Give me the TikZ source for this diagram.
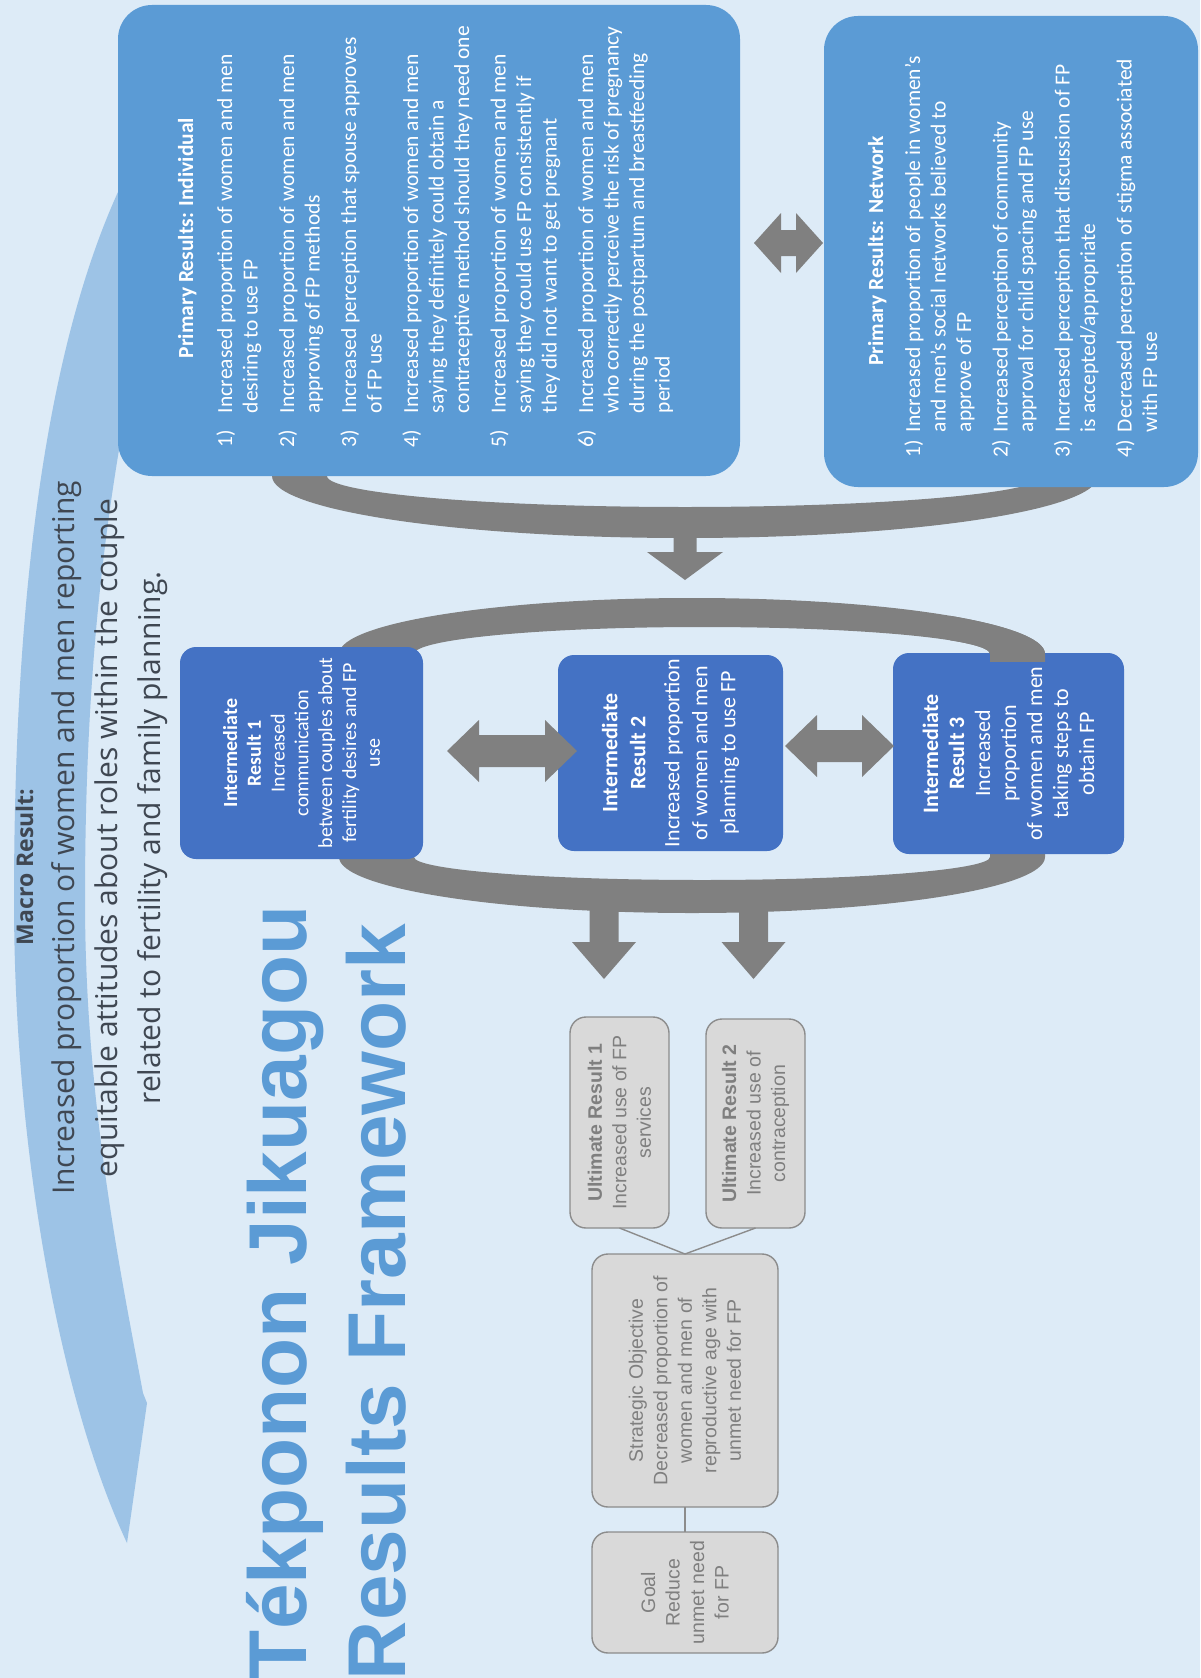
\documentclass[tikz,border=0pt]{standalone}
\usepackage{fontspec}
\setmainfont{Carlito}
\newfontfamily\osans{Open Sans}
\newfontfamily\lsans{Liberation Sans}
\definecolor{bgc}{HTML}{DDEBF7}
\definecolor{prim}{HTML}{5B9BD5}
\definecolor{irc}{HTML}{4472C4}
\definecolor{arrg}{HTML}{808080}
\definecolor{arcc}{HTML}{9DC3E6}
\definecolor{macrot}{HTML}{3F4752}
\definecolor{urfill}{HTML}{D9D9D9}
\definecolor{urline}{HTML}{8C8C8C}
\definecolor{urtext}{HTML}{7F7F7F}
\begin{document}
\begin{tikzpicture}[x=1pt,y=-1pt,
  every node/.style={inner sep=0pt,outer sep=0pt},
  primbox/.style={rectangle,rounded corners=34pt,fill=prim,rotate=90},
  irbox/.style={rectangle,rounded corners=16pt,fill=irc,rotate=90,text=white,align=center},
  urbox/.style={rectangle,rounded corners=16pt,fill=urfill,draw=urline,line width=1.4pt,rotate=90,text=urtext,align=center,font=\lsans\fontsize{19.5}{24.5}\selectfont},
  garrow/.style={fill=arrg},
  wtext/.style={text=white,rotate=90},
  conn/.style={draw=urline,line width=1.4pt}]
\useasboundingbox (0,0) rectangle (1200,1678);
\fill[bgc] (0,0) rectangle (1200,1678);

% macro curved arrow
\fill[arcc] (126,175) .. controls (45,340) and (14,600) .. (14,900)
  .. controls (14,1150) and (60,1400) .. (127,1543) -- (147,1403) -- (143,1393)
  .. controls (120,1270) and (85,1100) .. (85,900)
  .. controls (85,700) and (100,560) .. (122,432) -- (130,300) -- cycle;

% macro text
\node[rotate=90,anchor=base,text=macrot,font=\osans\bfseries\fontsize{23}{28}\selectfont] (mtitle) at (33,867) {Macro Result:};
\node[rotate=90,text=macrot,align=center,font=\osans\fontsize{30}{43}\selectfont] (mtext) at (110,838)
  {Increased proportion of women and men reporting\\equitable attitudes about roles within the couple\\related to fertility and family planning.};

% title
\node[rotate=90,anchor=base west,text=prim,font=\lsans\bfseries\fontsize{82}{98}\selectfont] (title1) at (306,1680) {Tékponon Jikuagou};
\node[rotate=90,anchor=base west,text=prim,font=\lsans\bfseries\fontsize{82}{98}\selectfont] (title2) at (405,1680) {Results Framework};

% upper bracket and arrow
\fill[garrow] (272,476) arc[start angle=180,end angle=0,x radius=413,y radius=62] -- (1043,476)
  arc[start angle=0,end angle=180,x radius=358,y radius=31] -- cycle;
\fill[garrow] (673.5,515) -- (696.5,515) -- (696.5,552) -- (723,552) -- (685,580) -- (647,552) -- (673.5,552) -- cycle;

% double arrow between primary boxes
\fill[garrow] (754,243) -- (781,213) -- (781,230) -- (796,230) -- (796,213) -- (823,243)
  -- (796,273) -- (796,256) -- (781,256) -- (781,273) -- cycle;

% primary boxes
\node[primbox,minimum width=471pt,minimum height=622pt] (indbox) at (429,240.5) {};
\node[primbox,minimum width=471pt,minimum height=374pt] (netbox) at (1011,251.5) {};

\node[wtext,anchor=base,font=\bfseries\fontsize{21.5}{25}\selectfont] (indhead) at (193,238) {Primary Results: Individual};
\node[wtext,anchor=base west,font=\fontsize{21.5}{25.5}\selectfont] (indlist) at (232,447) {%
\begin{tabular}[t]{@{}p{34pt}@{}l@{}}
1) & Increased proportion of women and men\\
   & desiring to use FP\\[11pt]
2) & Increased proportion of women and men\\
   & approving of FP methods\\[11pt]
3) & Increased perception that spouse approves\\
   & of FP use\\[11pt]
4) & Increased proportion of women and men\\
   & saying they definitely could obtain a\\
   & contraceptive method should they need one\\[11pt]
5) & Increased proportion of women and men\\
   & saying they could use FP consistently if\\
   & they did not want to get pregnant\\[11pt]
6) & Increased proportion of women and men\\
   & who correctly perceive the risk of pregnancy\\
   & during the postpartum and breastfeeding\\
   & period
\end{tabular}};

\node[wtext,anchor=base,font=\bfseries\fontsize{21.5}{25}\selectfont] (nethead) at (883,251) {Primary Results: Network};
\node[wtext,anchor=base west,font=\fontsize{21.5}{25.5}\selectfont] (netlist) at (920,457) {%
\begin{tabular}[t]{@{}p{25pt}@{}l@{}}
1) & Increased proportion of people in women's\\
   & and men's social networks believed to\\
   & approve of FP\\[11pt]
2) & Increased perception of community\\
   & approval for child spacing and FP use\\[11pt]
3) & Increased perception that discussion of FP\\
   & is accepted/appropriate\\[11pt]
4) & Decreased perception of stigma associated\\
   & with FP use
\end{tabular}};

% ring around intermediate results
\fill[garrow,even odd rule] (339,654) arc[start angle=180,end angle=360,x radius=353,y radius=56] -- (1045,857)
  arc[start angle=0,end angle=180,x radius=353,y radius=56] -- cycle
  (414,654) arc[start angle=180,end angle=360,x radius=288,y radius=27] -- (990,857)
  arc[start angle=0,end angle=180,x radius=288,y radius=23] -- cycle;

% intermediate result boxes
\node[irbox,minimum width=212pt,minimum height=243pt,font=\fontsize{20}{23.8}\selectfont] (ir1) at (301.5,753)
  {\textbf{Intermediate}\\\textbf{Result 1}\\Increased\\communication\\between couples about\\fertility desires and FP\\use};
\node[irbox,minimum width=196pt,minimum height=225pt,font=\fontsize{22}{28}\selectfont] (ir2) at (670.5,753)
  {\textbf{Intermediate}\\\textbf{Result 2}\\[6pt]Increased proportion\\of women and men\\planning to use FP};
\node[irbox,minimum width=201pt,minimum height=231pt,font=\fontsize{22}{26}\selectfont] (ir3) at (1008.5,753.5)
  {\textbf{Intermediate}\\\textbf{Result 3}\\Increased\\proportion\\of women and men\\taking steps to\\obtain FP};

% ring overlap on top of IR3 corner
\begin{scope}
\clip (950,590) rectangle (1130,661);
\fill[garrow,even odd rule] (339,654) arc[start angle=180,end angle=360,x radius=353,y radius=56] -- (1045,857)
  arc[start angle=0,end angle=180,x radius=353,y radius=56] -- cycle
  (414,654) arc[start angle=180,end angle=360,x radius=288,y radius=27] -- (990,857)
  arc[start angle=0,end angle=180,x radius=288,y radius=23] -- cycle;
\end{scope}

% double arrows between intermediate results
\fill[garrow] (447,751) -- (479,720) -- (479,735) -- (545,735) -- (545,720) -- (577,751)
  -- (545,782) -- (545,767) -- (479,767) -- (479,782) -- cycle;
\fill[garrow] (785,746) -- (817,715) -- (817,730) -- (862,730) -- (862,715) -- (894,746)
  -- (862,777) -- (862,762) -- (817,762) -- (817,777) -- cycle;

% two down arrows
\fill[garrow] (589.5,895) -- (618.5,895) -- (618.5,942) -- (636,942) -- (604,979) -- (572,942) -- (589.5,942) -- cycle;
\fill[garrow] (739,895) -- (768,895) -- (768,942) -- (785.5,942) -- (753.5,979) -- (721.5,942) -- (739,942) -- cycle;

% ultimate results, objective, goal
\node[urbox,minimum width=211pt,minimum height=99pt] (ur1) at (619.5,1122.5) {\textbf{Ultimate Result 1}\\Increased use of FP\\services};
\node[urbox,minimum width=209pt,minimum height=99pt] (ur2) at (755.5,1123.5) {\textbf{Ultimate Result 2}\\Increased use of\\contraception};
\node[urbox,minimum width=253pt,minimum height=186pt] (so) at (685,1380.5)
  {Strategic Objective\\Decreased proportion of\\women and men of\\reproductive age with\\unmet need for FP};
\node[urbox,minimum width=121pt,minimum height=186pt] (goal) at (685,1592.5) {Goal\\Reduce\\unmet need\\for FP};
\draw[conn] (ur1.west) -- (so.east);
\draw[conn] (ur2.west) -- (so.east);
\draw[conn] (so.west) -- (goal.east);
\end{tikzpicture}
\end{document}
